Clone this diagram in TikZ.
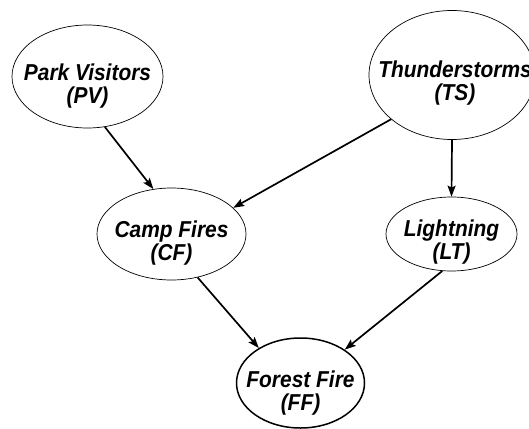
\documentclass[tikz,border=0pt]{standalone}
\usepackage{fontspec}
\setmainfont{Liberation Sans}[FakeStretch=0.91]
\usetikzlibrary{arrows.meta,shapes.geometric}

\begin{document}
\begin{tikzpicture}[->,line width=1.7pt,>={Stealth[length=11pt,width=8pt,inset=2pt]},x=1pt,y=-1pt]
    \tikzstyle{event}=[draw=black, ellipse, line width=0.7pt, inner sep=0pt, fill=none]
    \tikzstyle{goal}=[event, line width=1.5pt]
    \tikzstyle{evtext}=[inner sep=0pt, text=black, align=center, font=\fontsize{23}{22.5}\selectfont\bfseries\itshape]

    \useasboundingbox (0,0) rectangle (529,428);
    \clip (0,0) rectangle (529,428);

    \node[event, minimum width=151, minimum height=103] (pv) at (87.5,76.5) {};   \node[evtext] (pvl) at (87.5,86)  {Park Visitors\\(PV)};
    \node[event, minimum width=166, minimum height=129] (ts) at (452,75)    {};   \node[evtext] (tsl) at (455,83)   {Thunderstorms\\(TS)};
    \node[event, minimum width=149, minimum height=92]  (cf) at (171.5,234) {};   \node[evtext] (cfl) at (171.5,243) {Camp Fires\\(CF)};
    \node[event, minimum width=131, minimum height=74]  (lt) at (451.5,234) {};   \node[evtext] (ltl) at (451.5,242) {Lightning\\(LT)};
    \node[goal,  minimum width=128, minimum height=90]  (ff) at (300.5,383) {};   \node[evtext] (ffl) at (300.5,393) {Forest Fire\\(FF)};
    \path
     (pv.-71)  edge[] (cf.112)
     (ts.-144) edge[] (cf.23)
     (ts.-90)  edge[] (lt.90)
     (cf.-59)  edge[] (ff.140)
     (lt.-104) edge[] (ff.37)
     ;
\end{tikzpicture}
\end{document}
